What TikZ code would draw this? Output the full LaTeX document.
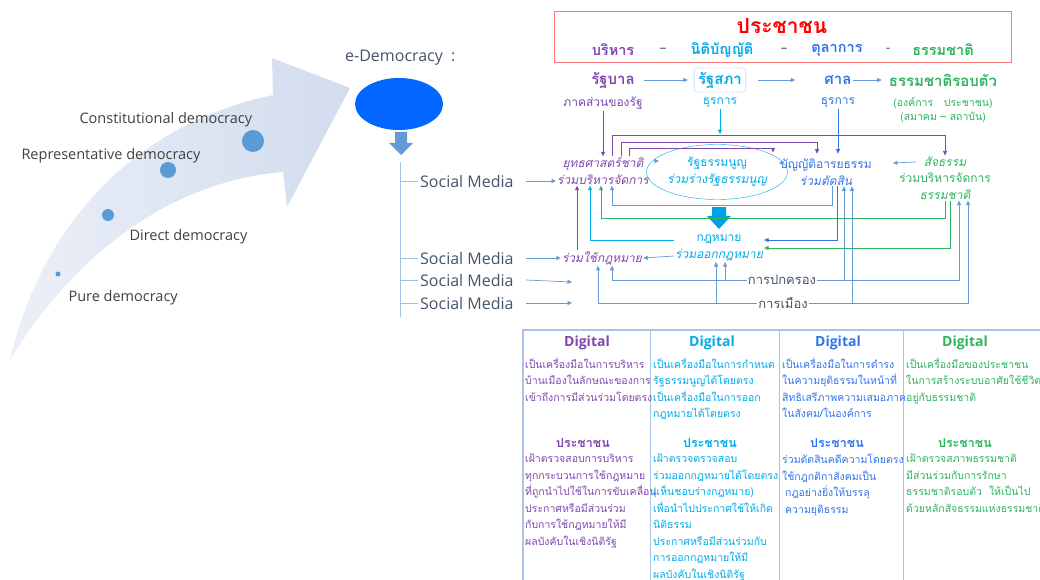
\documentclass[tikz,border=0pt]{standalone}
\usepackage{fontspec}
\setmainfont{Open Sans}
\newfontfamily\thaifont[Script=Thai]{Loma}
\usetikzlibrary{positioning,arrows.meta,shapes.geometric}

\definecolor{tpurple}{RGB}{128,70,175}
\definecolor{tcyan}{RGB}{0,170,235}
\definecolor{tblue}{RGB}{50,115,235}
\definecolor{tgreen}{RGB}{45,180,95}
\definecolor{tred}{RGB}{255,0,0}
\definecolor{boxred}{RGB}{255,120,120}
\definecolor{lnblue}{RGB}{100,155,215}
\definecolor{stemblue}{RGB}{157,195,230}
\definecolor{txtgray}{RGB}{64,64,64}
\definecolor{slate}{RGB}{68,84,106}
\definecolor{arrowbg}{RGB}{210,220,238}
\definecolor{ebblue}{RGB}{0,102,255}
\definecolor{dotblue}{RGB}{91,155,213}
\definecolor{bigarr}{RGB}{0,160,232}
\definecolor{tblline}{RGB}{170,195,228}

\tikzset{
  tip/.style={-{Triangle[length=4.5pt,width=4pt]}},
  pa/.style={draw=tpurple, line width=0.7pt, tip},
  ca/.style={draw=tcyan, line width=0.7pt, tip},
  ba/.style={draw=tblue, line width=0.7pt, tip},
  ga/.style={draw=tgreen, line width=0.7pt, tip},
  la/.style={draw=lnblue, line width=0.7pt, tip},
  stem/.style={draw=stemblue, line width=0.8pt},
  demo/.style={font=\fontsize{14.5}{16}\selectfont, text=txtgray, anchor=west},
  smedia/.style={font=\fontsize{16}{18}\selectfont, text=slate, anchor=west, inner sep=2pt},
  sepdash/.style={font=\fontsize{14}{16}\selectfont, text=slate},
  th/.style={font=\thaifont\fontsize{12}{16.5}\selectfont, inner sep=1pt, align=center},
  thb/.style={font=\thaifont\bfseries\fontsize{15}{17}\selectfont, inner sep=1pt},
  tbtxt/.style={font=\thaifont\fontsize{10.5}{16.5}\selectfont, inner sep=0pt, align=left, anchor=north west},
  tbhd/.style={font=\thaifont\bfseries\fontsize{12.5}{14}\selectfont, inner sep=0pt},
  dig/.style={font=\bfseries\fontsize{14}{16}\selectfont, inner sep=0pt}
}

\begin{document}
\begin{tikzpicture}[x=1pt,y=-1pt]
\useasboundingbox (0,0) rectangle (1040,580);

% the curved arrow of the stages
\shade[left color=arrowbg!45, right color=arrowbg] (10,360) .. controls (40,230) and (130,125) .. (273,95)
  -- (272,58) -- (350,88) -- (287,207) -- (283,172) .. controls (180,180) and (80,245) .. cycle;
\fill[dotblue] (253,141) circle (11);
\fill[dotblue] (168,170) circle (8);
\fill[dotblue] (108,215) circle (6);
\fill[dotblue] (58,274) circle (2.5);
\node[demo] (cons) at (76,120) {Constitutional democracy};
\node[demo] (repr) at (18,156) {Representative democracy};
\node[demo] (dire) at (126,237) {Direct democracy};
\node[demo] (pure) at (65,298) {Pure democracy};

% e-Democracy
\node[smedia] (edtitle) at (343,58) {e-Democracy~~:};
\node[ellipse, fill=ebblue, minimum width=88, minimum height=52] (edem) at (399,104) {};
\fill[lnblue] (395,132) -- (407,132) -- (407,143) -- (413,143) -- (401,155) -- (389,143) -- (395,143) -- cycle;
\coordinate (sttop) at (400,162);
\coordinate (stbot) at (400,317);
\draw[stem] (sttop) -- (stbot);
\node[smedia] (sm1) at (418,181) {Social Media};
\node[smedia] (sm2) at (418,258) {Social Media};
\node[smedia] (sm3) at (418,280) {Social Media};
\node[smedia] (sm4) at (418,303) {Social Media};
\foreach \s in {sm1,sm2,sm3,sm4}
  \draw[stem] (\s.west) -- (\s.west -| sttop);

% top box
\node[draw=boxred, line width=1pt, minimum width=457, minimum height=51] (peoplebox) at (783,37) {};
\node[font=\thaifont\bfseries\fontsize{21}{23}\selectfont, text=tred] (people) at (782,26) {ประชาชน};
\node[thb, text=tpurple, font=\thaifont\bfseries\fontsize{14.5}{16}\selectfont] (br1) at (613,50) {บริหาร};
\node[sepdash] (d1) at (663,50) {–};
\node[thb, text=tcyan, font=\thaifont\bfseries\fontsize{14.5}{16}\selectfont] (br2) at (722,50) {นิติบัญญัติ};
\node[sepdash] (d2) at (784,50) {–};
\node[thb, text=tblue, font=\thaifont\bfseries\fontsize{14.5}{16}\selectfont] (br3) at (837,50) {ตุลาการ};
\node[sepdash] (d3) at (888,50) {-};
\node[thb, text=tgreen, font=\thaifont\bfseries\fontsize{14.5}{16}\selectfont] (br4) at (943,50) {ธรรมชาติ};

% organs
\node[thb, text=tpurple] (gov1) at (613,80) {รัฐบาล};
\node[thb, text=tcyan, draw=stemblue, rounded corners=3pt, inner sep=4pt] (parl) at (720,80) {รัฐสภา};
\node[thb, text=tblue] (court) at (838,80) {ศาล};
\node[thb, text=tgreen] (natr) at (943,80) {ธรรมชาติรอบตัว};
\draw[la] ([xshift=8pt]gov1.east) -- ([xshift=-6pt]parl.west);
\draw[la] ([xshift=12pt]parl.east) -- ([xshift=-28pt]court.west);
\draw[la] (court.east) -- ([xshift=-6pt]natr.west);
\node[th, text=tpurple] (sub1) at (603,103) {ภาคส่วนของรัฐ};
\node[th, text=tcyan] (sub2) at (720,103) {ธุรการ};
\node[th, text=tblue] (sub3) at (838,103) {ธุรการ};
\node[th, text=tgreen, font=\thaifont\fontsize{10.5}{14}\selectfont] (sub4) at (943,110) {(องค์การ~~~ประชาชน)\\(สมาคม – สถาบัน)};

% participation
\node[th, text=tpurple] (yut) at (603,171) {{\itshape ยุทธศาสตร์ชาติ}\\{\itshape ร่วมบริหารจัดการ}};
\node[th, ellipse, draw=tcyan, text=tcyan, minimum width=100, minimum height=55, inner sep=0pt] (con) at (717,172) {รัฐธรรมนูญ\\{\itshape ร่วมร่างรัฐธรรมนูญ}};
\node[th, text=tblue] (ban) at (826,172) {บัญญัติอารยธรรม\\{\itshape ร่วมตัดสิน}};
\node[th, text=tgreen] (sat) at (945,178) {{\itshape สัจธรรม}\\ร่วมบริหารจัดการ\\{\itshape ธรรมชาติ}};
\node[th, text=tcyan] (law) at (719,248) {กฎหมาย\\{\itshape ร่วมออกกฎหมาย}};
\node[th, text=tpurple] (use) at (602,258) {\itshape ร่วมใช้กฎหมาย};
\node[th, text=slate, font=\thaifont\fontsize{13}{15}\selectfont] (rule) at (782,280) {การปกครอง};
\node[th, text=slate, font=\thaifont\fontsize{13}{15}\selectfont] (pol) at (783,303) {การเมือง};
\fill[bigarr] (712,207) -- (726,207) -- (726,216) -- (731,216) -- (719,229) -- (707,216) -- (712,216) -- cycle;

% from above
\draw[pa] (sub1) -- (yut);
\draw[pa] ([xshift=9pt]yut.north) -- ++(0,-21) -| (sat.north);
\draw[pa] ([xshift=18pt]yut.north) -- ++(0,-14) -| ([xshift=-9pt,yshift=4pt]ban.north);
\draw[pa] ([xshift=26pt]yut.north) -- ++(0,-8) -| ([xshift=6pt]con.north east);
\draw[ca] (sub2.south) -- ++(0,25);
\draw[ba] (sub3.south) -- ([yshift=4pt]sub3.south |- ban.north);

% sideways
\draw[la] ([xshift=9pt,yshift=11pt]con.west) -- ([xshift=9pt,yshift=10pt]yut.east);
\draw[la] ([xshift=2pt,yshift=9pt]ban.west) -- ([xshift=-9pt,yshift=9pt]con.east);
\draw[la] ([xshift=18pt,yshift=16pt]sat.west) -- ([xshift=20pt,yshift=9pt]ban.east);
\draw[la] ([xshift=10pt]sm1.east) -- (sm1.east -| yut.west);
\draw[la] ([xshift=10pt]sm2.east) -- (sm2.east -| use.west);
\coordinate (sm3end) at (572,282);
\coordinate (sm4end) at (572,303);
\draw[la] ([xshift=10pt]sm3.east) -- (sm3end);
\draw[la] ([xshift=10pt]sm4.east) -- (sm4end);

% from below
\draw[la] ([xshift=6pt]ban.south) -- ++(0,19) -| ([xshift=9pt]yut.south);
\draw[ga] (sat.south) -- ++(0,18) -| ([xshift=-2pt]yut.south);
\draw[ca] ([yshift=8pt]law.west) -| ([xshift=-13pt]yut.south);
\draw[pa] ([xshift=-25pt]use.north) -- ([xshift=-25pt]use.north |- yut.south);
\draw[ba] ([xshift=11pt]ban.south) |- ([yshift=8pt]law.east);
\draw[ga] ([xshift=5pt]sat.south) |- (law.east);
\draw[la] ([yshift=-8pt]law.west) -- (use.east);
\draw[la] (rule.west) -| ([xshift=10pt]use.south);
\draw[la] ([xshift=6pt]law.south |- rule.west) -- ([xshift=6pt]law.south);
\draw[la] (pol.west) -| ([xshift=-4pt]use.south);
\draw[la] ([xshift=-3pt]law.south |- pol.west) -- ([xshift=-3pt]law.south);
\draw[la] (rule.east) -| ([xshift=14pt]sat.south);
\draw[la] ([xshift=18pt]ban.south |- rule.east) -- ([xshift=18pt]ban.south);
\draw[la] (pol.east) -| ([xshift=23pt]sat.south);
\draw[la] ([xshift=26pt]ban.south |- pol.east) -- ([xshift=26pt]ban.south);

% table
\draw[tblline, line width=1.6pt] (523,580) -- (523,330) -- (1040,330);
\draw[tblline, line width=1pt] (650,330) -- (650,580);
\draw[tblline, line width=1pt] (779,330) -- (779,580);
\draw[tblline, line width=1pt] (903,330) -- (903,580);
\foreach \cx/\cc [count=\i] in {587/tpurple, 712/tcyan, 838/tblue, 965/tgreen}
  \node[dig, text=\cc] (dig\i) at (\cx,343) {Digital};

\node[tbtxt, text=tpurple] (c1a) at (525,357) {เป็นเครื่องมือในการบริหาร\\บ้านเมืองในลักษณะของการ\\เข้าถึงการมีส่วนร่วมโดยตรง};
\node[tbhd, text=tpurple] (p1) at (583,443) {ประชาชน};
\node[tbtxt, text=tpurple] (c1b) at (525,454) {เฝ้าตรวจสอบการบริหาร\\ทุกกระบวนการใช้กฎหมาย\\ที่ถูกนำไปใช้ในการขับเคลื่อน\\ประกาศหรือมีส่วนร่วม\\กับการใช้กฎหมายให้มี\\ผลบังคับในเชิงนิติรัฐ};

\node[tbtxt, text=tcyan] (c2a) at (653,357) {เป็นเครื่องมือในการกำหนด\\รัฐธรรมนูญได้โดยตรง\\เป็นเครื่องมือในการออก\\กฎหมายได้โดยตรง};
\node[tbhd, text=tcyan] (p2) at (710,443) {ประชาชน};
\node[tbtxt, text=tcyan] (c2b) at (653,454) {เฝ้าตรวจตรวจสอบ\\ร่วมออกกฎหมายได้โดยตรง\\(เห็นชอบร่างกฎหมาย)\\เพื่อนำไปประกาศใช้ให้เกิด\\นิติธรรม\\ประกาศหรือมีส่วนร่วมกับ\\การออกกฎหมายให้มี\\ผลบังคับในเชิงนิติรัฐ};

\node[tbtxt, text=tblue] (c3a) at (782,357) {เป็นเครื่องมือในการดำรง\\ในความยุติธรรมในหน้าที่\\สิทธิเสรีภาพความเสมอภาค\\ในสังคม/ในองค์การ};
\node[tbhd, text=tblue] (p3) at (837,443) {ประชาชน};
\node[tbtxt, text=tblue] (c3b) at (782,454) {ร่วมตัดสินคดีความโดยตรง\\ใช้กฎกติกาสังคมเป็น\\\hspace{3pt}กฎอย่างยิ่งให้บรรลุ\\\hspace{3pt}ความยุติธรรม};

\node[tbtxt, text=tgreen] (c4a) at (906,357) {เป็นเครื่องมือของประชาชน\\ในการสร้างระบบอาศัยใช้ชีวิต\\อยู่กับธรรมชาติ};
\node[tbhd, text=tgreen] (p4) at (965,443) {ประชาชน};
\node[tbtxt, text=tgreen] (c4b) at (906,454) {เฝ้าตรวจสภาพธรรมชาติ\\มีส่วนร่วมกับการรักษา\\ธรรมชาติรอบตัว~~ให้เป็นไป\\ด้วยหลักสัจธรรมแห่งธรรมชาติ};
\end{tikzpicture}
\end{document}
